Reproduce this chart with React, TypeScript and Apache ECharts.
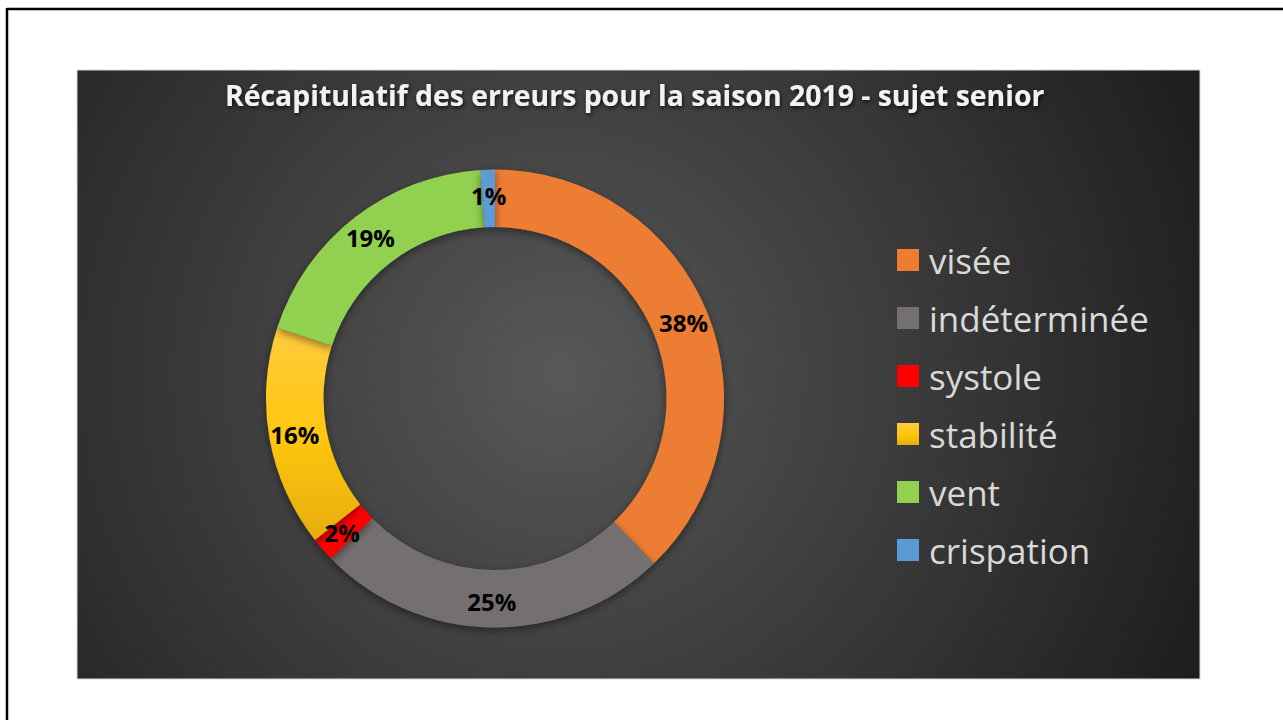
import React, { useEffect, useRef } from "react";
import * as echarts from "echarts";

const TITLE = "Récapitulatif des erreurs pour la saison 2019 - sujet senior";
const CATEGORIES = ["visée", "indéterminée", "systole", "stabilité", "vent", "crispation"];
const VALUES = [37.8, 24.9, 1.7, 15.6, 19.0, 1.0];
const COLORS: any[] = [
  "#ED7D31",
  "#757070",
  "#FF0000",
  {
    type: "linear",
    x: 0,
    y: 0,
    x2: 0,
    y2: 1,
    colorStops: [
      { offset: 0, color: "#FFCB3E" },
      { offset: 0.5, color: "#FFC70F" },
      { offset: 1, color: "#E6AE0C" },
    ],
  },
  "#92D050",
  "#5B9BD5",
];

export default function App() {
  const ref = useRef<HTMLDivElement>(null);
  useEffect(() => {
    if (!ref.current) return;
    const chart = echarts.init(ref.current, undefined, { renderer: "svg" });
    const total = VALUES.reduce((a, b) => a + b, 0);
    chart.setOption({
      animation: false,
      backgroundColor: "#ffffff",
      graphic: [
        {
          type: "rect",
          z: -10,
          shape: { x: 77, y: 70, width: 1123, height: 609 },
          style: {
            fill: {
              type: "radial",
              x: 560,
              y: 374,
              r: 700,
              global: true,
              colorStops: [
                { offset: 0, color: "#585858" },
                { offset: 1, color: "#1e1e1e" },
              ],
            },
            stroke: "#d8d8d8",
            lineWidth: 1,
          },
        },
        {
          type: "line",
          shape: { x1: 7, y1: 9, x2: 1290, y2: 9 },
          style: { stroke: "#000", lineWidth: 2.5 },
        },
        {
          type: "line",
          shape: { x1: 7, y1: 8, x2: 7, y2: 730 },
          style: { stroke: "#000", lineWidth: 2.5 },
        },
      ],
      title: {
        text: TITLE,
        left: 225,
        top: 81,
        padding: 0,
        textStyle: {
          fontFamily: "Open Sans",
          fontWeight: "bold",
          fontSize: 28.4,
          color: "#f2f2f2",
          textShadowColor: "rgba(0,0,0,0.75)",
          textShadowBlur: 4,
          textShadowOffsetX: 1,
          textShadowOffsetY: 2,
        },
      },
      legend: {
        orient: "vertical",
        left: 897,
        top: 240,
        padding: 0,
        itemWidth: 22,
        itemHeight: 22,
        itemGap: 18,
        icon: "rect",
        data: CATEGORIES,
        textStyle: {
          fontFamily: "Open Sans",
          fontSize: 35,
          lineHeight: 40,
          color: "#d9d9d9",
          padding: [0, 0, 0, 5],
        },
        itemStyle: { borderWidth: 0 },
      },
      series: [
        {
          type: "pie",
          center: [495, 398.5],
          radius: [171.5, 229],
          startAngle: 90,
          clockwise: true,
          avoidLabelOverlap: false,
          data: CATEGORIES.map((name, i) => ({
            name,
            value: VALUES[i],
            itemStyle: { color: COLORS[i] },
          })),
          itemStyle: {
            borderWidth: 0,
            shadowColor: "rgba(0,0,0,0.45)",
            shadowBlur: 8,
            shadowOffsetY: 3,
          },
          label: {
            show: true,
            position: "inside",
            formatter: (p: any) => Math.round((p.value / total) * 100) + "%",
            color: "#000",
            fontFamily: "Open Sans",
            fontWeight: "bold",
            fontSize: 24,
          },
          labelLine: { show: false },
          emphasis: { disabled: true },
        },
      ],
    });
    return () => chart.dispose();
  }, []);
  return (
    <div
      ref={ref}
      style={{ position: "fixed", left: 0, top: 0, width: 1283, height: 720 }}
    />
  );
}
